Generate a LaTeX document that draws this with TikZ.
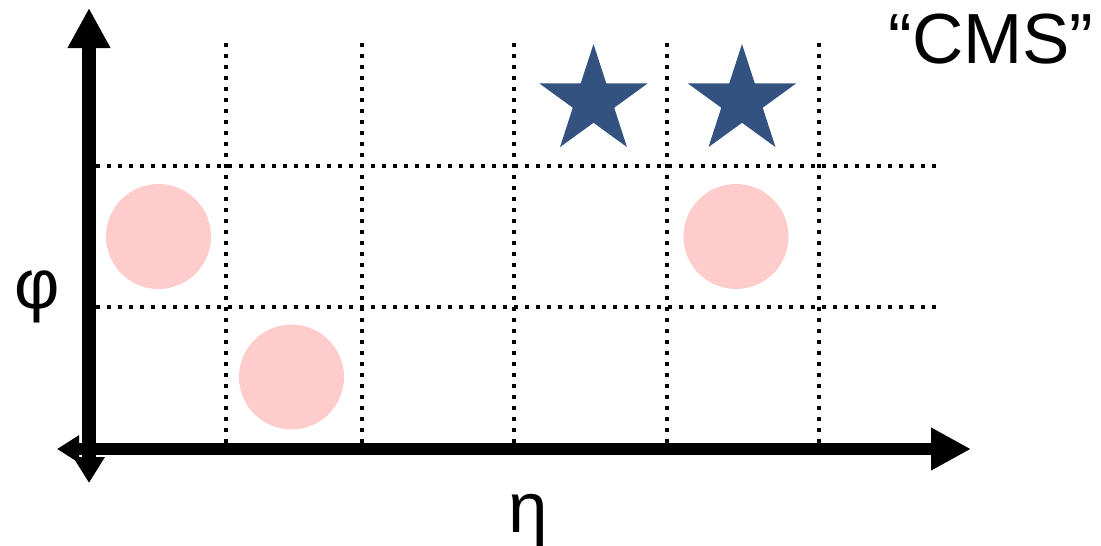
\documentclass[tikz,border=0pt]{standalone}
\usepackage{fontspec}
\setmainfont{Liberation Sans}
\usetikzlibrary{arrows.meta,shapes.geometric}
\definecolor{starblue}{RGB}{52,82,128}
\definecolor{dotpink}{RGB}{255,204,204}
\tikzset{
  gridline/.style={line width=4pt, dash pattern=on 4pt off 7pt},
  blob/.style={circle, fill=dotpink, minimum size=105pt, inner sep=0pt},
  starnode/.style={star, star points=5, star point ratio=2.618, fill=starblue, minimum size=114pt, inner sep=0pt},
}
\begin{document}
\begin{tikzpicture}[x=1pt,y=-1pt]
\useasboundingbox (0,0) rectangle (1101,546);
% grid
\foreach \gx in {226,362,514,667,819}
  \draw[gridline] (\gx,43) -- (\gx,443);
\foreach \gy in {166,307}
  \draw[gridline] (96,\gy) -- (937,\gy);
% circles
\node[blob] (c1) at (158.5,236.5) {};
\node[blob] (c2) at (291.5,377) {};
\node[blob] (c3) at (736,236.5) {};
% stars
\node[starnode] (s1) at (593.5,101) {};
\node[starnode] (s2) at (742,101) {};
% axes
\coordinate (vb) at (89,483);
\coordinate (vt) at (89,8);
\coordinate (hl) at (57,449);
\coordinate (hr) at (971,449);
\draw[line width=14pt, {Triangle[length=26pt,width=30pt]}-{Triangle[length=40pt,width=40pt]}] (vb) -- (vt);
\draw[line width=12pt, {Triangle[length=22pt,width=26pt]}-{Triangle[length=40pt,width=40pt]}] (hl) -- (hr);
% labels
\node[font=\fontsize{71}{71}\selectfont, anchor=base, inner sep=0pt] (cms) at (991,63) {“CMS”};
\node[font=\fontsize{70}{70}\selectfont, inner sep=0pt] (phi) at (37.5,297) {φ};
\node[font=\fontsize{71}{71}\selectfont, anchor=base, inner sep=0pt] (eta) at (528,532) {η};
\end{tikzpicture}
\end{document}
